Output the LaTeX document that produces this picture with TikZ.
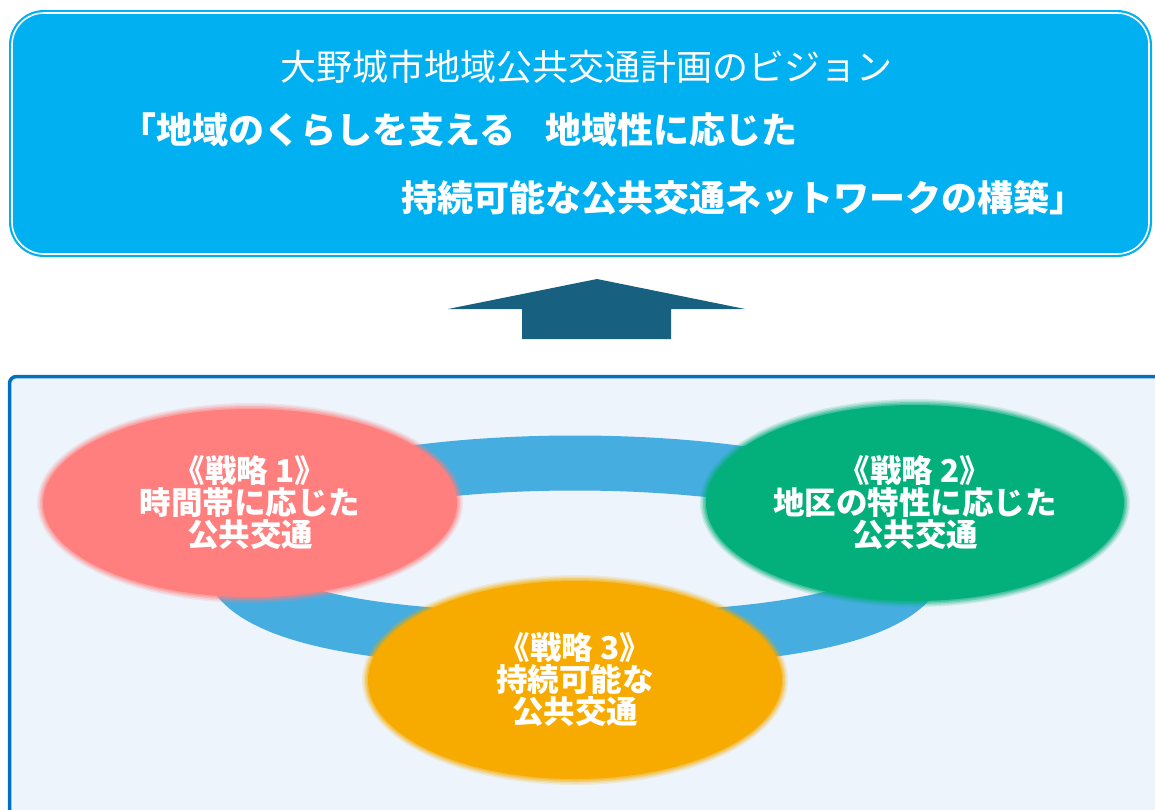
\documentclass[tikz,border=0pt]{standalone}
\usepackage{fontspec}
\setmainfont{Noto Sans CJK JP}
\usetikzlibrary{shapes.geometric}
\definecolor{topblue}{RGB}{0,176,240}
\definecolor{arrowc}{RGB}{23,96,128}
\definecolor{frameblue}{RGB}{0,112,192}
\definecolor{panel}{RGB}{237,244,251}
\definecolor{ringc}{RGB}{69,173,223}
\definecolor{sonec}{RGB}{255,127,127}
\definecolor{stwoc}{RGB}{3,175,122}
\definecolor{sthreec}{RGB}{247,171,0}
\newcommand\softell[7]{%
  \foreach \d/\o in {5/0.15,3.5/0.2,2/0.3,0.5/0.4}{%
    \fill[#2, opacity=\o] (#3,#4) ellipse [x radius=#5pt+\d pt, y radius=#6pt+\d pt];}
  \node[stratnode, fill=#2, minimum width=2*#5pt-2pt, minimum height=2*#6pt-2pt] (#1) at (#3,#4) {#7};
}
\begin{document}
\begin{tikzpicture}[x=1pt,y=-1pt,
  visline/.style={text=white, inner sep=0, font=\fontsize{36}{36}\selectfont},
  visbold/.style={visline, anchor=west, font=\bfseries\fontsize{36}{36}\selectfont},
  stratnode/.style={ellipse, inner sep=0, text=white, align=center,
    font=\bfseries\fontsize{31.5}{32}\selectfont}]
\useasboundingbox (0,0) rectangle (1155,809);
\fill[white] (0,0) rectangle (1155,809);
% vision box
\fill[topblue, rounded corners=35pt] (9,10) rectangle (1152,257);
\draw[white, line width=1.6pt, rounded corners=32pt] (12,13) rectangle (1149,254);
\node[visline] (v1) at (586,67) {大野城市地域公共交通計画のビジョン};
\node[visbold] (v2) at (120,130) {「地域のくらしを支える\hspace{30pt}地域性に応じた};
\node[visbold] (v3) at (401,198) {持続可能な公共交通ネットワークの構築」};
% arrow
\fill[arrowc] (597,279) -- (745,309) -- (671,309) -- (671,339) -- (522,339) -- (522,309) -- (448,309) -- cycle;
% strategy panel
\draw[frameblue, fill=panel, line width=3.5pt, rounded corners=7pt] (9.5,376.5) rectangle (1200,900);
% ring
\draw[ringc, line width=55pt] (575,463) .. controls (770,463) and (922,503) .. (922,551)
  .. controls (922,600) and (840,640) .. (575,640)
  .. controls (310,640) and (228,600) .. (228,551)
  .. controls (228,503) and (380,463) .. (575,463) -- cycle;
% strategies
\softell{s1}{sonec}{250}{503}{208}{95}{《戦略 1》\\時間帯に応じた\\公共交通}
\softell{s2}{stwoc}{915}{503}{210}{99}{《戦略 2》\\地区の特性に応じた\\公共交通}
\softell{s3}{sthreec}{575}{680}{208}{100}{《戦略 3》\\持続可能な\\公共交通}
\end{tikzpicture}
\end{document}
